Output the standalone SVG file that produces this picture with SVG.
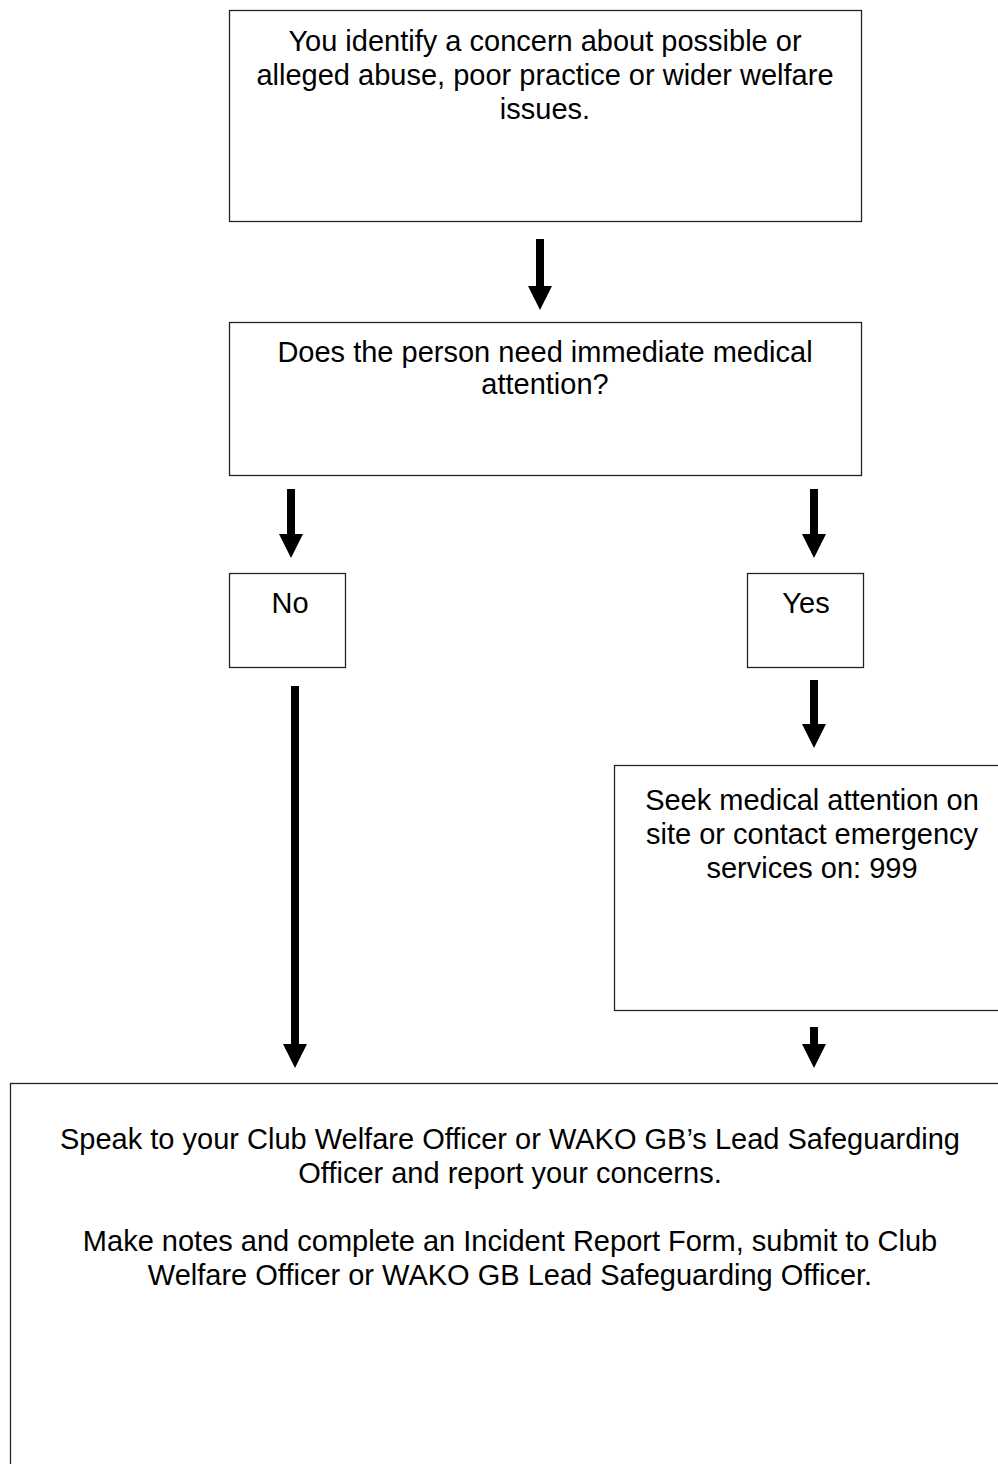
<svg xmlns="http://www.w3.org/2000/svg" width="998" height="1464" viewBox="0 0 998 1464">
<style>
.box{fill:#fff;stroke:#222;stroke-width:1.3}
text{font-family:"Liberation Sans",Arial,sans-serif;font-size:29px;fill:#000;text-anchor:middle}
.shaft{stroke:#000;stroke-width:8;fill:none}
.head{fill:#000}
</style>
<rect width="998" height="1464" fill="#fff"/>
<g id="n1"><rect class="box" x="229.5" y="10.5" width="632" height="211"/>
<text x="545" y="51">You identify a concern about possible or</text>
<text x="545" y="85">alleged abuse, poor practice or wider welfare</text>
<text x="545" y="119">issues.</text></g>
<g id="n2"><rect class="box" x="229.5" y="322.5" width="632" height="153"/>
<text x="545" y="362">Does the person need immediate medical</text>
<text x="545" y="394">attention?</text></g>
<g id="n3"><rect class="box" x="229.5" y="573.5" width="116" height="94"/>
<text x="290" y="613">No</text></g>
<g id="n4"><rect class="box" x="747.5" y="573.5" width="116" height="94"/>
<text x="806" y="613">Yes</text></g>
<g id="n5"><rect class="box" x="614.5" y="765.5" width="400" height="245"/>
<text x="812" y="810">Seek medical attention on</text>
<text x="812" y="844">site or contact emergency</text>
<text x="812" y="878">services on: 999</text></g>
<g id="n6"><rect class="box" x="10.5" y="1083.5" width="1000" height="400"/>
<text x="510" y="1149">Speak to your Club Welfare Officer or WAKO GB’s Lead Safeguarding</text>
<text x="510" y="1183">Officer and report your concerns.</text>
<text x="510" y="1251">Make notes and complete an Incident Report Form, submit to Club</text>
<text x="510" y="1285">Welfare Officer or WAKO GB Lead Safeguarding Officer.</text></g>
<g id="connectors">
<line class="shaft" x1="540" y1="239" x2="540" y2="288"/><polygon class="head" points="528,286 552,286 540,310"/>
<line class="shaft" x1="291" y1="489" x2="291" y2="536"/><polygon class="head" points="279,534 303,534 291,558"/>
<line class="shaft" x1="814" y1="489" x2="814" y2="536"/><polygon class="head" points="802,534 826,534 814,558"/>
<line class="shaft" x1="814" y1="680" x2="814" y2="726"/><polygon class="head" points="802,724 826,724 814,748"/>
<line class="shaft" x1="295" y1="686" x2="295" y2="1046"/><polygon class="head" points="283,1044 307,1044 295,1068"/>
<line class="shaft" x1="814" y1="1027" x2="814" y2="1046"/><polygon class="head" points="802,1044 826,1044 814,1068"/>
</g>
</svg>
